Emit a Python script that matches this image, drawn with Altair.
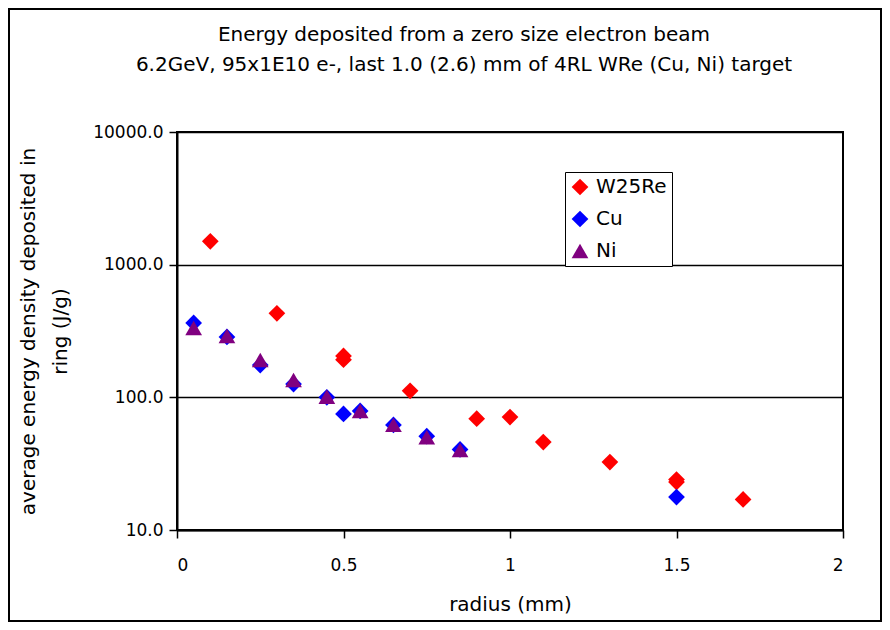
import altair as alt
import pandas as pd

w_x = [0.1, 0.3, 0.5, 0.5, 0.7, 0.9, 1.0, 1.1, 1.3, 1.5, 1.5, 1.7]
w_y = [1500, 430, 205, 192, 112, 69, 71, 46, 32.5, 24, 23, 17]

cu_x = [0.05, 0.15, 0.25, 0.35, 0.45, 0.5, 0.55, 0.65, 0.75, 0.85, 1.5]
cu_y = [364, 285, 175, 126, 100, 75, 79, 62, 51, 40.5, 17.7]

ni_x = [0.05, 0.15, 0.25, 0.35, 0.45, 0.55, 0.65, 0.75, 0.85]
ni_y = [333, 290, 191, 135, 101, 79, 62, 50, 40]

series = ["W25Re", "Cu", "Ni"]
colors = ["#FF0000", "#0000FF", "#800080"]
shapes = ["diamond", "diamond", "triangle-up"]
sizes = [280, 280, 120]

title_lines = ["Energy deposited from a zero size electron beam",
               "6.2GeV, 95x1E10 e-, last 1.0 (2.6) mm of 4RL WRe (Cu, Ni) target"]

rows = []
for name, xs, ys in [("W25Re", w_x, w_y), ("Cu", cu_x, cu_y), ("Ni", ni_x, ni_y)]:
    for a, b in zip(xs, ys):
        rows.append({"series": name, "radius": a, "energy": b, "order": series.index(name)})
df = pd.DataFrame(rows)

FONT = "DejaVu Sans"
W, H = 666, 398

points = alt.Chart(df).mark_point(filled=True, opacity=1).encode(
    x=alt.X("radius:Q", scale=alt.Scale(domain=[0, 2], nice=False),
            axis=alt.Axis(values=[0, 0.5, 1, 1.5, 2], format="~g", grid=False,
                          title="radius (mm)", titlePadding=21, labelPadding=19)),
    y=alt.Y("energy:Q", scale=alt.Scale(type="log", domain=[10, 10000], nice=False),
            axis=alt.Axis(values=[10, 100, 1000, 10000], format=".1f", grid=True,
                          title=["average energy density deposited in", "ring (J/g)"],
                          titleLineHeight=32, titlePadding=22, labelPadding=6)),
    color=alt.Color("series:N", scale=alt.Scale(domain=series, range=colors),
                    legend=alt.Legend(title=None, orient="none", legendX=388, legendY=40,
                                      strokeColor="black", fillColor="white", padding=5,
                                      labelFontSize=20, labelFont=FONT, rowPadding=12,
                                      labelOffset=6, symbolSize=200, symbolStrokeWidth=0)),
    shape=alt.Shape("series:N", scale=alt.Scale(domain=series, range=shapes), legend=alt.Legend(title=None)),
    size=alt.Size("series:N", scale=alt.Scale(domain=series, range=sizes), legend=None),
    order=alt.Order("order:Q"),
)

frame = alt.Chart(alt.Data(values=[{"a": 1}])).mark_rect(
    fill="white", fillOpacity=0, stroke="black", strokeWidth=2
).encode(x=alt.value(-168), x2=alt.value(704), y=alt.value(-123), y2=alt.value(489))

tdf = pd.DataFrame({"line": title_lines, "ypos": [-97, -67]})
titles = alt.Chart(tdf).mark_text(font=FONT, fontSize=20, color="black", align="center",
                                  baseline="middle").encode(
    text="line:N", x=alt.value(287), y=alt.Y("ypos:Q", scale=None))

chart = alt.layer(frame, points, titles).properties(
    width=W, height=H,
    autosize=alt.AutoSizeParams(type="none"),
    padding={"left": 169, "top": 124, "right": 39, "bottom": 92},
).configure_axis(
    labelFont=FONT, titleFont=FONT, labelFontSize=17, titleFontSize=20,
    titleFontWeight="normal", labelColor="black", titleColor="black",
    domainColor="black", domainWidth=2, tickColor="black", tickWidth=1.5, tickSize=8,
    gridColor="black", gridWidth=1.5,
).configure_view(stroke="black", strokeWidth=2).configure_legend(labelColor="black")

chart.save("out.html", embed_options={"renderer": "svg", "actions": False})
